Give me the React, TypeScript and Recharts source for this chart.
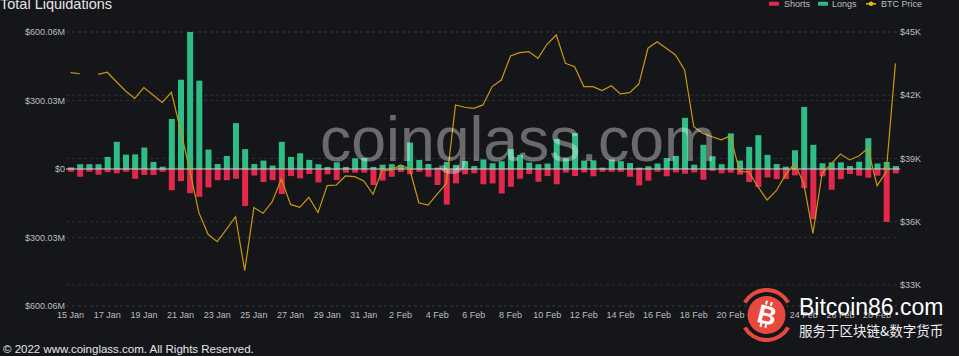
import React from "react";
import {
  Bar,
  CartesianGrid,
  ComposedChart,
  Line,
  ReferenceLine,
  XAxis,
  YAxis,
} from "recharts";

const days = [
  "15 Jan", "16 Jan", "17 Jan", "18 Jan", "19 Jan", "20 Jan", "21 Jan", "22 Jan",
  "23 Jan", "24 Jan", "25 Jan", "26 Jan", "27 Jan", "28 Jan", "29 Jan", "30 Jan",
  "31 Jan", "1 Feb", "2 Feb", "3 Feb", "4 Feb", "5 Feb", "6 Feb", "7 Feb",
  "8 Feb", "9 Feb", "10 Feb", "11 Feb", "12 Feb", "13 Feb", "14 Feb", "15 Feb",
  "16 Feb", "17 Feb", "18 Feb", "19 Feb", "20 Feb", "21 Feb", "22 Feb", "23 Feb",
  "24 Feb", "25 Feb", "26 Feb", "27 Feb", "28 Feb", "1 Mar",
];

// 12h buckets, $M
const longs = [
  7, 21, 21, 21, 53, 119, 63, 64, 94, 31, 10, 219, 391, 600, 387, 85, 22, 57, 201, 87,
  22, 37, 15, 119, 53, 69, 40, 21, 9, 29, 9, 47, 48, 9, 19, 21, 16, 116, 40, 22,
  6, 31, 18, 35, 13, 42, 25, 34, 87, 62, 28, 21, 24, 132, 47, 157, 37, 38, 6, 42,
  34, 26, 6, 12, 24, 48, 57, 224, 19, 106, 56, 21, 156, 37, 97, 148, 62, 22, 10, 82,
  272, 106, 25, 29, 29, 13, 32, 135, 24, 31, 13,
];

const shorts = [
  12, 34, 12, 25, 13, 19, 12, 43, 26, 26, 12, 93, 53, 106, 122, 81, 49, 49, 43, 162,
  29, 57, 49, 110, 31, 41, 22, 59, 23, 48, 16, 16, 16, 70, 51, 34, 13, 23, 12, 34,
  70, 156, 63, 23, 19, 67, 63, 107, 78, 43, 22, 56, 31, 67, 16, 31, 15, 32, 12, 12,
  12, 34, 72, 51, 12, 32, 15, 21, 15, 47, 9, 19, 16, 25, 57, 79, 37, 44, 44, 28,
  84, 220, 32, 91, 44, 22, 29, 38, 29, 232, 19,
];

// BTC price, $K
const btcPrice = [
  43.07, 43.02, null, 42.99, 43.09, 42.64, 42.2, 41.85, 42.36, 42.01, 41.66, 42.14, 40.35,
  38.45, 36.43, 35.4, 35.05, 35.64, 36.24, 33.68, 36.67, 36.4, 36.95, 38.03, 36.82, 36.68,
  37.16, 36.43, 37.71, 37.74, 38.17, 38.14, 37.93, 37.3, 38.45, 38.45, 38.69, 38.5, 36.9,
  36.79, 37.31, 37.82, 41.54, 41.43, 41.38, 41.54, 42.41, 42.72, 43.86, 44.02, 44.07, 43.75,
  44.43, 44.86, 43.51, 43.35, 42.41, 42.41, 42.22, 42.45, 42.06, 42.12, 42.53, 44.23, 44.54,
  44.23, 43.91, 43.2, 40.51, 40.19, 40.03, 39.88, 40.07, 38.37, 38.37, 37.66, 37.03, 37.47,
  38.22, 38.77, 37.82, 35.45, 38.3, 38.74, 39.21, 38.93, 39.12, 39.48, 37.71, 38.37, 43.51,
];

const leftTicks = [-600.06, -300.03, 0, 300.03, 600.06];
const rightTicks = [33, 36, 39, 42, 45];

const GREEN = "#2ebd85";
const RED = "#e2284b";
const GOLD = "#c9970e";
const AXIS_TEXT = "#bdbdbd";
const FONT = "'Liberation Sans', Arial, sans-serif";

const data = longs.map((l, i) => ({
  time: `${days[Math.floor(i / 2)]} ${i % 2 ? "12:00" : "00:00"}`,
  longs: l,
  shorts: -shorts[i],
  price: btcPrice[i],
}));

const fmtLeft = (v: number) => (v === 0 ? "$0" : `$${Math.abs(v).toFixed(2)}M`);
const fmtRight = (v: number) => `$${v}K`;
const fmtDay = (t: string) => t.replace(/ \d\d:\d\d$/, "");

function Overlay() {
  const cx = 766.5;
  const cy = 315;
  return (
    <svg
      width={959}
      height={356}
      style={{ position: "absolute", left: 0, top: 0, pointerEvents: "none" }}
    >
      <text x={0} y={8.7} fontSize={14.5} fill="#e4e4e4" fontFamily={FONT}>
        Total Liquidations
      </text>

      <g fontFamily={FONT} fontSize={9} fill={AXIS_TEXT}>
        <rect x={769} y={1.8} width={10} height={4} rx={1} fill={RED} />
        <text x={784} y={7}>Shorts</text>
        <rect x={818} y={1.8} width={10} height={4} rx={1} fill={GREEN} />
        <text x={832} y={7}>Longs</text>
        <line x1={866} x2={876} y1={3.8} y2={3.8} stroke="#f0b90b" strokeWidth={1.5} />
        <circle cx={871} cy={3.8} r={2.2} fill="#f0b90b" />
        <text x={881} y={7}>BTC Price</text>
      </g>

      <text
        x={320}
        y={161}
        fontSize={62.5}
        fill="#ffffff"
        fillOpacity={0.36}
        fontFamily={FONT}
      >
        coinglass.com
      </text>

      <text x={3} y={353} fontSize={11.5} fill="#e6e6e6" fontFamily={FONT}>
        © 2022 www.coinglass.com. All Rights Reserved.
      </text>

      <circle cx={cx} cy={cy} r={19} fill="#e8493f" />
      <path
        d={`M ${cx - 21.65} ${cy - 12.5} A 25 25 0 0 1 ${cx + 21.65} ${cy - 12.5}`}
        stroke="#e8493f"
        strokeWidth={4}
        fill="none"
      />
      <path
        d={`M ${cx - 21.65} ${cy + 12.5} A 25 25 0 0 0 ${cx + 21.65} ${cy + 12.5}`}
        stroke="#e8493f"
        strokeWidth={4}
        fill="none"
      />
      <g transform={`rotate(14 ${cx} ${cy})`}>
        <text
          x={cx + 0.5}
          y={cy + 9}
          textAnchor="middle"
          fontSize={26}
          fontWeight="bold"
          fill="#ffffff"
          fontFamily={FONT}
        >
          B
        </text>
        <g stroke="#ffffff" strokeWidth={2}>
          <line x1={cx - 3} x2={cx - 3} y1={cy - 14} y2={cy - 10} />
          <line x1={cx + 2} x2={cx + 2} y1={cy - 14} y2={cy - 10} />
          <line x1={cx - 3} x2={cx - 3} y1={cy + 9} y2={cy + 13} />
          <line x1={cx + 2} x2={cx + 2} y1={cy + 9} y2={cy + 13} />
        </g>
      </g>
      <text x={799} y={315} fontSize={23} fill="#ffffff" fontFamily={FONT}>
        Bitcoin86.com
      </text>
      <text
        x={799}
        y={336}
        fontSize={13.5}
        fill="#f0f0f0"
        fontFamily="'Noto Sans CJK SC', sans-serif"
      >
        服务于区块链&数字货币
      </text>
    </svg>
  );
}

export default function App() {
  return (
    <div
      style={{
        position: "absolute",
        left: 0,
        top: 0,
        width: 959,
        height: 356,
        background: "#15161a",
        overflow: "hidden",
        fontFamily: FONT,
      }}
    >
      <ComposedChart
        width={959}
        height={356}
        data={data}
        stackOffset="sign"
        margin={{ top: 32, right: 0, bottom: 30, left: 0 }}
      >
        <CartesianGrid
          yAxisId="left"
          vertical={false}
          stroke="#2c2e34"
          strokeDasharray="3 3"
        />
        <CartesianGrid
          yAxisId="right"
          vertical={false}
          stroke="#2c2e34"
          strokeDasharray="3 3"
        />
        <XAxis
          dataKey="time"
          interval={3}
          tickFormatter={fmtDay}
          tick={{ fontSize: 9, fill: AXIS_TEXT }}
          tickLine={false}
          axisLine={false}
          tickSize={0}
          tickMargin={6}
          height={20}
        />
        <YAxis
          yAxisId="left"
          domain={[-600.06, 600.06]}
          ticks={leftTicks}
          tickFormatter={fmtLeft}
          tick={{ fontSize: 9, fill: AXIS_TEXT }}
          tickLine={false}
          axisLine={false}
          tickSize={0}
          tickMargin={1}
          width={66}
        />
        <YAxis
          yAxisId="right"
          orientation="right"
          domain={[32, 45]}
          ticks={rightTicks}
          tickFormatter={fmtRight}
          tick={{ fontSize: 9, fill: AXIS_TEXT }}
          tickLine={false}
          axisLine={false}
          tickSize={0}
          tickMargin={0}
          width={59}
        />
        <Bar
          yAxisId="left"
          dataKey="longs"
          stackId="liq"
          fill={GREEN}
          barSize={6}
          isAnimationActive={false}
        />
        <Bar
          yAxisId="left"
          dataKey="shorts"
          stackId="liq"
          fill={RED}
          barSize={6}
          isAnimationActive={false}
        />
        <ReferenceLine yAxisId="left" y={0} stroke="#cdd3da" strokeWidth={1} />
        <Line
          yAxisId="right"
          dataKey="price"
          type="linear"
          stroke={GOLD}
          strokeWidth={1.2}
          dot={false}
          activeDot={false}
          connectNulls={false}
          isAnimationActive={false}
        />
      </ComposedChart>
      <Overlay />
    </div>
  );
}
